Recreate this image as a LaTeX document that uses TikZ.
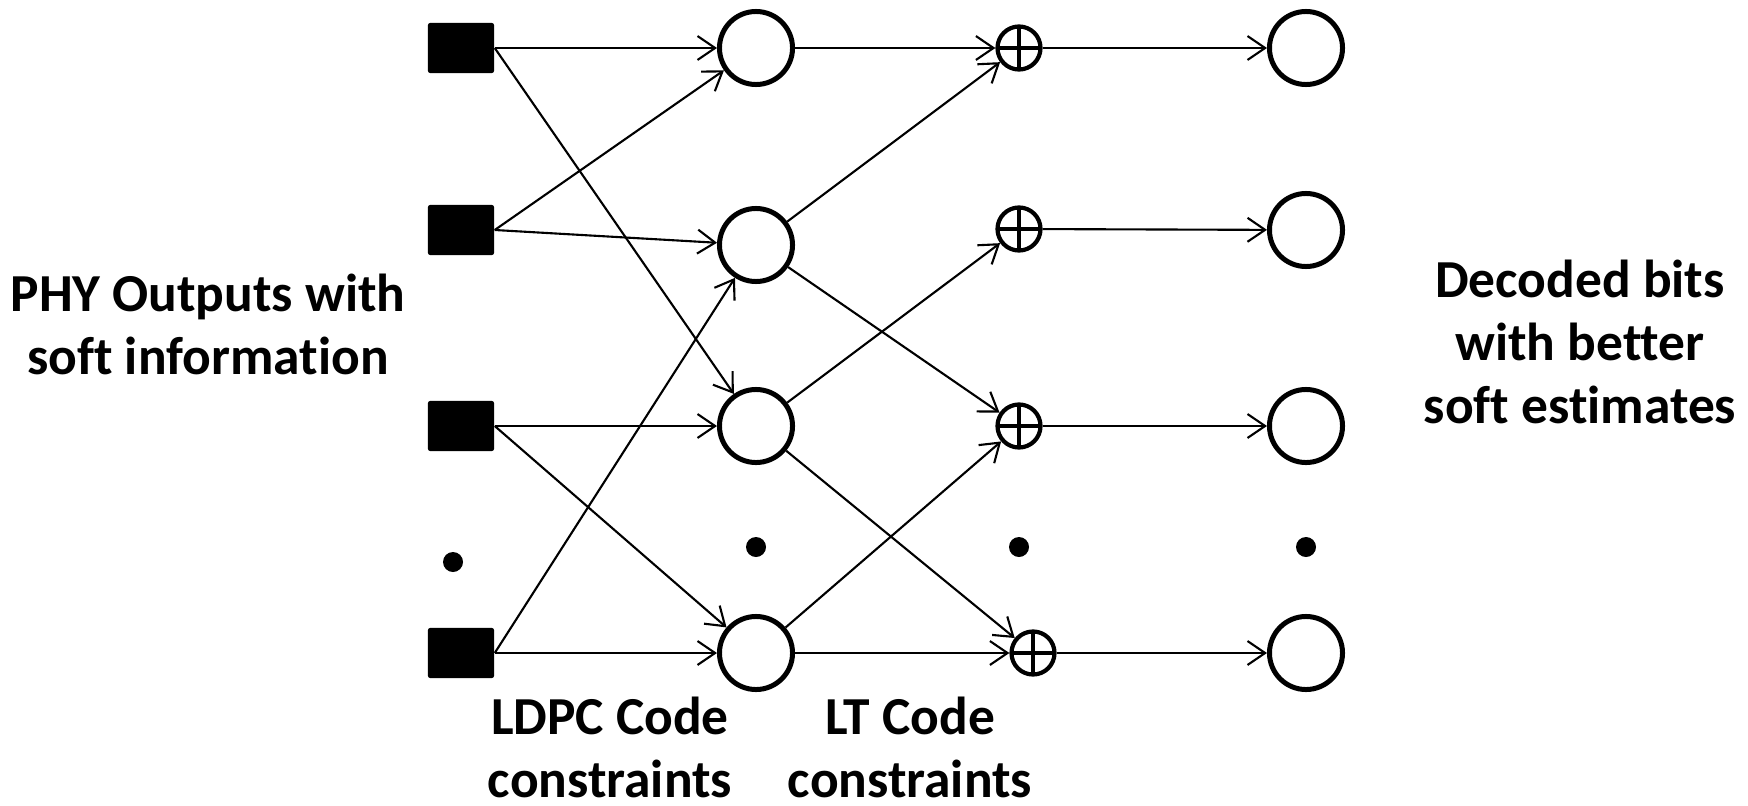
\documentclass[tikz,border=0pt]{standalone}
\usepackage{fontspec}
\setmainfont{Carlito}[Ligatures=NoCommon]
\usetikzlibrary{arrows.meta}
\begin{document}
\begin{tikzpicture}[x=0.01cm, y=-0.01cm,
  phy/.style={fill=black, rectangle, rounded corners=0.6pt, minimum width=0.66cm, minimum height=0.50cm, inner sep=0pt},
  var/.style={circle, draw=black, line width=1.42pt, minimum size=0.73cm, inner sep=0pt},
  xor/.style={circle, draw=black, line width=1.2pt, minimum size=0.43cm, inner sep=0pt,
    path picture={
      \draw[line width=1.2pt] (path picture bounding box.north) -- (path picture bounding box.south)
                              (path picture bounding box.west) -- (path picture bounding box.east);}},
  ellip/.style={circle, fill=black, minimum size=0.2cm, inner sep=0pt},
  edge/.style={line width=0.6pt, -{Straight Barb[length=5pt, width=6.8pt, line width=0.6pt]}},
  lbl/.style={font=\bfseries\fontsize{15.2pt}{17.9pt}\selectfont, align=center, inner sep=0pt, anchor=base}
]
\useasboundingbox (0,0) rectangle (1748,806);

% channel observations
\node[phy] (s1) at (461,48) {};
\node[phy] (s2) at (461,230) {};
\node[phy] (s3) at (461,426) {};
\node[phy] (s4) at (461,653) {};
\node[ellip] (sd) at (453,562) {};

% LDPC variable nodes
\node[var] (c1) at (756,48) {};
\node[var] (c2) at (756,245) {};
\node[var] (c3) at (756,426) {};
\node[var] (c4) at (756,653) {};
\node[ellip] (cd) at (756,547) {};

% LT check nodes
\node[xor] (x1) at (1019,48) {};
\node[xor] (x2) at (1019,229) {};
\node[xor] (x3) at (1019,426) {};
\node[xor] (x4) at (1033,653) {};
\node[ellip] (xd) at (1019,547) {};

% decoded bits
\node[var] (o1) at (1306,48) {};
\node[var] (o2) at (1306,230) {};
\node[var] (o3) at (1306,426) {};
\node[var] (o4) at (1306,653) {};
\node[ellip] (od) at (1306,547) {};

% PHY outputs into LDPC nodes
\draw[edge] (s1.east) -- (c1);
\draw[edge] (s1.east) -- (c3);
\draw[edge] (s2.east) -- (c1);
\draw[edge] (s2.east) -- (c2);
\draw[edge] (s3.east) -- (c3);
\draw[edge] (s3.east) -- (c4);
\draw[edge] (s4.east) -- (c2);
\draw[edge] (s4.east) -- (c4);

% LDPC nodes into LT checks
\draw[edge] (c1) -- (x1);
\draw[edge] (c2) -- (x1);
\draw[edge] (c2) -- (x3);
\draw[edge] (c3) -- (x2);
\draw[edge] (c3) -- (x4);
\draw[edge] (c4) -- (x3);
\draw[edge] (c4) -- (x4);

% LT checks into decoded bits
\draw[edge] (x1) -- (o1);
\draw[edge] (x2) -- (o2);
\draw[edge] (x3) -- (o3);
\draw[edge] (x4) -- (o4);

% labels (anchored at the baseline of the last line)
\node[lbl] (lin) at (208,374) {PHY Outputs with\\soft information};
\node[lbl] (lout) at (1580,423) {Decoded bits\\with better\\soft estimates};
\node[lbl] (lldpc) at (610,797) {LDPC Code\\constraints};
\node[lbl] (llt) at (910,797) {LT Code\\constraints};
\end{tikzpicture}
\end{document}
